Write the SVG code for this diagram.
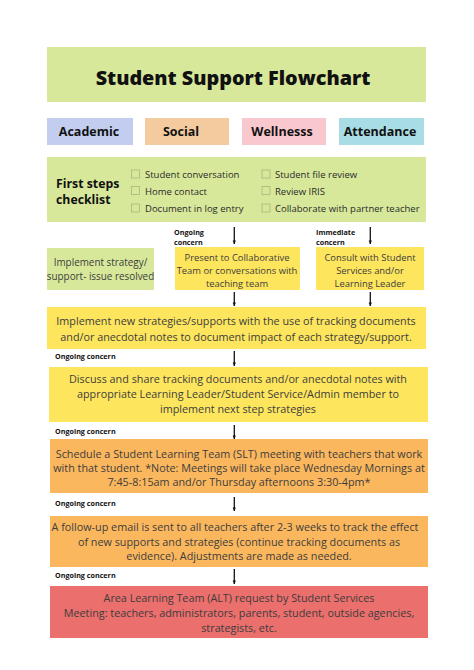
<svg xmlns="http://www.w3.org/2000/svg" width="474" height="670" viewBox="0 0 474 670">
<defs>
<marker id="ah" viewBox="0 0 10 10" refX="9" refY="5" markerWidth="4" markerHeight="4" orient="auto" markerUnits="userSpaceOnUse">
<path d="M0,1 L10,5 L0,9 Z" fill="#111"/>
</marker>
<style>
text{font-family:"Open Sans","Noto Sans","Liberation Sans",sans-serif;}
.green{fill:#d8e89b;}
.yellow{fill:#fde55e;}
.orange{fill:#fbb75e;}
.red{fill:#eb6f6c;}
.t{font-size:10.8px;fill:#3d3d3d;text-anchor:middle;}
.ts{font-size:9.4px;fill:#3d3d3d;text-anchor:middle;}
.tr{font-size:9.9px;fill:#3d3d3d;text-anchor:middle;}
.cat{font-size:12.5px;font-weight:700;fill:#111;text-anchor:middle;}
.lbl{font-size:7.2px;font-weight:700;fill:#111;}
.ck{font-size:9.5px;fill:#2a2a2a;}
.cb{fill:none;stroke:#a9b67c;stroke-width:0.8;}
.arr{stroke:#111;stroke-width:1.3;fill:none;marker-end:url(#ah);}
</style>
</defs>
<rect width="474" height="670" fill="#fff"/>

<g id="title">
<rect class="green" x="47" y="47" width="379" height="55"/>
<text x="233" y="85" font-size="19.8" font-weight="800" fill="#111" text-anchor="middle">Student Support Flowchart</text>
</g>

<g id="academic">
<rect x="47" y="118" width="86" height="27" fill="#c2cdf0"/>
<text class="cat" x="89" y="136">Academic</text>
</g>
<g id="social">
<rect x="145" y="118" width="84" height="27" fill="#f3cb9f"/>
<text class="cat" x="181" y="136">Social</text>
</g>
<g id="wellness">
<rect x="242" y="118" width="84" height="27" fill="#f9c7ce"/>
<text class="cat" x="282" y="136">Wellnesss</text>
</g>
<g id="attendance">
<rect x="339" y="118" width="85" height="27" fill="#a8dde6"/>
<text class="cat" x="380" y="136">Attendance</text>
</g>

<g id="checklist">
<rect class="green" x="47" y="157" width="379" height="65"/>
<text x="56" y="188" font-size="12.3" font-weight="700" fill="#111">First steps</text>
<text x="56" y="204" font-size="12.3" font-weight="700" fill="#111">checklist</text>
<rect class="cb" x="131.5" y="170" width="8" height="8"/>
<rect class="cb" x="131.5" y="186.5" width="8" height="8"/>
<rect class="cb" x="131.5" y="204" width="8" height="8"/>
<rect class="cb" x="262" y="170" width="8" height="8"/>
<rect class="cb" x="262" y="186.5" width="8" height="8"/>
<rect class="cb" x="262" y="204" width="8" height="8"/>
<text class="ck" x="145" y="178">Student conversation</text>
<text class="ck" x="145" y="194.5">Home contact</text>
<text class="ck" x="145" y="212">Document in log entry</text>
<text class="ck" x="275" y="178">Student file review</text>
<text class="ck" x="275" y="194.5">Review IRIS</text>
<text class="ck" x="275" y="212">Collaborate with partner teacher</text>
</g>

<g id="resolved">
<rect class="green" x="47" y="248" width="107" height="42"/>
<text class="tr" x="100.5" y="266">Implement strategy/</text>
<text class="tr" x="100.5" y="280">support- issue resolved</text>
</g>

<g id="present">
<rect class="yellow" x="175" y="247" width="125" height="43"/>
<text class="ts" x="237" y="261">Present to Collaborative</text>
<text class="ts" x="237" y="274">Team or conversations with</text>
<text class="ts" x="237" y="287">teaching team</text>
</g>

<g id="consult">
<rect class="yellow" x="316" y="247" width="108" height="43"/>
<text class="ts" x="370" y="261">Consult with Student</text>
<text class="ts" x="370" y="274">Services and/or</text>
<text class="ts" x="370" y="287">Learning Leader</text>
</g>

<g id="implement">
<rect class="yellow" x="47" y="307" width="379" height="42"/>
<text class="t" x="236" y="325">Implement new strategies/supports with the use of tracking documents</text>
<text class="t" x="236" y="341">and/or anecdotal notes to document impact of each strategy/support.</text>
</g>

<g id="discuss">
<rect class="yellow" x="49" y="367" width="379" height="55"/>
<text class="t" x="238" y="383">Discuss and share tracking documents and/or anecdotal notes with</text>
<text class="t" x="238" y="398">appropriate Learning Leader/Student Service/Admin member to</text>
<text class="t" x="238" y="413">implement next step strategies</text>
</g>

<g id="schedule">
<rect class="orange" x="50" y="439" width="378" height="54"/>
<text class="t" x="239" y="458">Schedule a Student Learning Team (SLT) meeting with teachers that work</text>
<text class="t" x="239" y="472">with that student. *Note: Meetings will take place Wednesday Mornings at</text>
<text class="t" x="239" y="486">7:45-8:15am and/or Thursday afternoons 3:30-4pm*</text>
</g>

<g id="followup">
<rect class="orange" x="50" y="516" width="378" height="51"/>
<text class="t" x="235" y="531">A follow-up email is sent to all teachers after 2-3 weeks to track the effect</text>
<text class="t" x="239" y="546">of new supports and strategies (continue tracking documents as</text>
<text class="t" x="239" y="560">evidence). Adjustments are made as needed.</text>
</g>

<g id="alt">
<rect class="red" x="50" y="586" width="378" height="52"/>
<text class="t" x="239" y="602">Area Learning Team (ALT) request by Student Services</text>
<text class="t" x="239" y="617">Meeting: teachers, administrators, parents, student, outside agencies,</text>
<text class="t" x="239" y="632">strategists, etc.</text>
</g>

<g id="connectors">
<path class="arr" d="M234.3,227 V244"/>
<path class="arr" d="M370.3,227 V244"/>
<path class="arr" d="M234.3,292 V306"/>
<path class="arr" d="M370.3,292 V306"/>
<path class="arr" d="M234.3,351 V366"/>
<path class="arr" d="M234.3,425 V439"/>
<path class="arr" d="M234.3,497 V511"/>
<path class="arr" d="M234.3,569 V584"/>
<text class="lbl" x="174" y="234.5">Ongoing</text>
<text class="lbl" x="174" y="245">concern</text>
<text class="lbl" x="316" y="234.5">Immediate</text>
<text class="lbl" x="316" y="245">concern</text>
<text class="lbl" x="55" y="359">Ongoing concern</text>
<text class="lbl" x="55" y="433.5">Ongoing concern</text>
<text class="lbl" x="55" y="506">Ongoing concern</text>
<text class="lbl" x="55" y="578">Ongoing concern</text>
</g>
</svg>
